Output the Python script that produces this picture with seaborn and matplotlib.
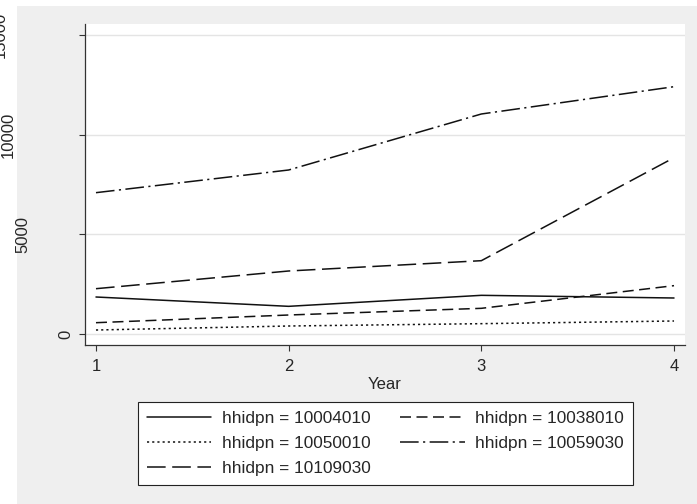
import numpy as np
import pandas as pd
import matplotlib
matplotlib.use("Agg")
import matplotlib.pyplot as plt
import seaborn as sns
from matplotlib.patches import Rectangle
from matplotlib.transforms import blended_transform_factory

# ---- data ----
years = [1, 2, 3, 4]
ids = ["10004010", "10038010", "10050010", "10059030", "10109030"]
v_10004010 = [1856, 1388, 1940, 1806]
v_10038010 = [567, 953, 1288, 2425]
v_10050010 = [200, 401, 518, 652]
v_10059030 = [7090, 8228, 11037, 12407]
v_10109030 = [2273, 3161, 3678, 8845]
series = [v_10004010, v_10038010, v_10050010, v_10059030, v_10109030]
yticks = [0, 5000, 10000, 15000]
ytick_labels = ["0", "5000", "10000", "15000"]
xticks = [1, 2, 3, 4]
xtick_labels = ["1", "2", "3", "4"]

labels = [f"hhidpn = {i}" for i in ids]
df = pd.DataFrame({
    "Year": np.tile(years, len(ids)),
    "value": np.concatenate(series),
    "hhidpn": np.repeat(labels, len(years)),
})

W, H = 697, 504
sns.set_style("white")
plt.rcParams["font.family"] = ["Liberation Sans", "DejaVu Sans"]

fig = plt.figure(figsize=(W / 100, H / 100), dpi=100, facecolor="white")
# gray outer region (Stata style graph region)
fig.add_artist(Rectangle((17 / W, 0), 1 - 17 / W, 1 - 6 / H, transform=fig.transFigure,
                         facecolor="#efefef", edgecolor="none", zorder=0))

ax = fig.add_axes([85 / W, 1 - 345 / H, (685 - 85) / W, (345 - 24) / H])
ax.set_facecolor("white")

dash_map = {
    labels[0]: "",
    labels[1]: (7.2, 3.6),
    labels[2]: (1.4, 2.0),
    labels[3]: (12.2, 2.9, 1.4, 2.9),
    labels[4]: (12.2, 4.3),
}
sns.lineplot(data=df, x="Year", y="value", style="hhidpn", style_order=labels,
             dashes=dash_map, color="#111111", linewidth=1.1, estimator=None,
             legend=False, ax=ax)

ax.set_xlim(0.943, 4.057)
ax.set_ylim(-552, 15552)
ax.set_yticks(yticks)
ax.set_yticklabels(ytick_labels, rotation=90, va="center", ha="center", fontsize=12)
ax.set_xticks(xticks)
ax.set_xticklabels(xtick_labels, fontsize=12)
ax.grid(axis="y", color="#e4e4e4", linewidth=1.0)
ax.grid(axis="x", visible=False)
ax.set_axisbelow(True)
ax.set_ylabel("")
ax.set_xlabel("Year", fontsize=12, labelpad=2.5)

for s in ["top", "right"]:
    ax.spines[s].set_visible(False)
for s in ["left", "bottom"]:
    ax.spines[s].set_color("#333333")
    ax.spines[s].set_linewidth(0.9)
ax.tick_params(axis="both", which="major", direction="out", length=4.5, width=0.8,
               color="#333333", left=True, bottom=True)
ax.tick_params(axis="x", pad=5.5)

# y tick labels: Stata-like placement of rotated labels
label_x_px = [66, 23, 8.5, 0]
trans = blended_transform_factory(fig.transFigure, ax.transData)
for tick, xp in zip(ax.yaxis.get_major_ticks(), label_x_px):
    lab = tick.label1
    lab.set_transform(trans)
    lab.set_x(xp / W)
    lab.set_rotation(90)
    lab.set_ha("center")
    lab.set_va("center")

handles = ax.get_lines()[:len(labels)]
# matplotlib fills legend columns first; reorder so rows read left-to-right
order = [0, 2, 4, 1, 3]
leg = fig.legend([handles[i] for i in order], [labels[i] for i in order],
                 loc="upper left", bbox_to_anchor=(138 / W, 1 - 402 / H),
                 bbox_transform=fig.transFigure, ncol=2, fontsize=12.4,
                 frameon=True, fancybox=False, shadow=False, borderaxespad=0,
                 handlelength=3.75, handletextpad=0.6, columnspacing=1.75,
                 labelspacing=0.6, borderpad=0.5)
leg.get_frame().set_edgecolor("#222222")
leg.get_frame().set_linewidth(0.8)
leg.get_frame().set_facecolor("white")
leg.get_frame().set_alpha(1)

fig.savefig("out.png", dpi=100, facecolor="white")
